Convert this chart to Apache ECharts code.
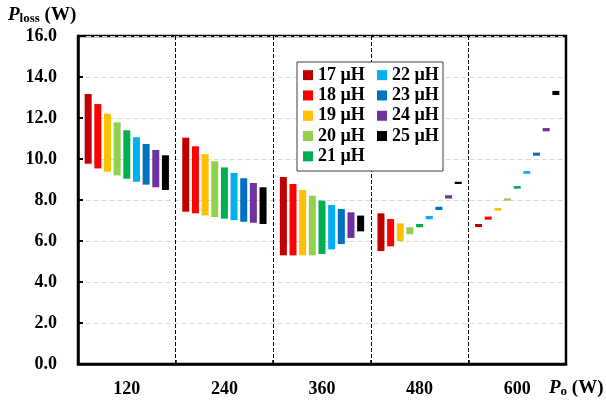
<!DOCTYPE html>
<html>
<head>
<meta charset="utf-8">
<script src="https://cdn.jsdelivr.net/npm/echarts@6/dist/echarts.min.js"></script>
<style>
  html,body{margin:0;padding:0;background:#fff;}
  #main{width:606px;height:403px;}
</style>
</head>
<body>
<div id="main"></div>
<script>
// output power levels (W)
var powers = ['120', '240', '360', '480', '600'];
// inductance values (uH)
var inductances = ['17', '18', '19', '20', '21', '22', '23', '24', '25'];
var colors = ['#C00000', '#FF0000', '#FFC000', '#92D050', '#00B050', '#00B0F0', '#0070C0', '#7030A0', '#000000'];

// upper end of the loss range, one row per inductance, one column per power
var lossTop = [
    [13.17, 11.04, 9.12, 7.35, 6.83],
    [12.68, 10.62, 8.78, 7.07, 7.19],
    [12.21, 10.24, 8.49, 6.86, 7.61],
    [11.79, 9.89, 8.21, 6.67, 8.08],
    [11.40, 9.59, 7.97, 6.83, 8.68],
    [11.06, 9.32, 7.76, 7.22, 9.41],
    [10.73, 9.06, 7.56, 7.67, 10.31],
    [10.44, 8.83, 7.40, 8.23, 11.51],
    [10.18, 8.62, 7.24, 8.89, 13.32]
];
// lower end of the loss range
var lossBottom = [
    [9.77, 7.43, 5.30, 5.51, 6.68],
    [9.54, 7.35, 5.30, 5.74, 7.04],
    [9.38, 7.25, 5.30, 6.00, 7.48],
    [9.20, 7.17, 5.30, 6.33, 7.97],
    [9.04, 7.09, 5.37, 6.67, 8.55],
    [8.89, 7.02, 5.59, 7.06, 9.28],
    [8.75, 6.94, 5.85, 7.51, 10.16],
    [8.62, 6.89, 6.15, 8.07, 11.35],
    [8.49, 6.83, 6.47, 8.78, 13.12]
];

var serif = '"Liberation Serif", "Times New Roman", serif';

var series = [];
var legendNames = [];
for (var i = 0; i < inductances.length; i++) {
    var name = inductances[i] + ' \u00b5H';
    legendNames.push(name);
    // invisible base so the coloured part floats
    series.push({
        type: 'bar',
        name: 'base' + i,
        stack: 'L' + i,
        silent: true,
        barWidth: 7,
        barGap: '38%',
        itemStyle: { color: 'transparent' },
        data: lossBottom[i]
    });
    series.push({
        type: 'bar',
        name: name,
        stack: 'L' + i,
        barWidth: 7,
        barGap: '38%',
        itemStyle: { color: colors[i] },
        data: lossTop[i].map(function (v, j) { return +(v - lossBottom[i][j]).toFixed(2); })
    });
}

var chart = echarts.init(document.getElementById('main'));
var option = {
    animation: false,
    backgroundColor: '#fff',
    grid: {
        left: 78, right: 40, top: 36, bottom: 39,
        show: true, borderColor: '#000', borderWidth: 2.5
    },
    legend: {
        data: legendNames,
        orient: 'vertical',
        left: 303, top: 66,
        height: 101,
        padding: 0,
        itemGap: 2,
        itemWidth: 10, itemHeight: 10,
        icon: 'rect',
        z: 5,
        textStyle: {
            fontFamily: serif, fontWeight: 'bold', fontSize: 18, color: '#000',
            width: 57, lineHeight: 18.3, padding: [0, 0, 0, 0]
        }
    },
    xAxis: {
        type: 'category',
        data: powers,
        axisLine: { lineStyle: { color: '#000', width: 2.5 } },
        axisTick: { show: true, inside: true, length: 4, lineStyle: { color: '#000', width: 1.5 } },
        axisLabel: { fontFamily: serif, fontWeight: 'bold', fontSize: 18, color: '#000', margin: 16 },
        splitLine: { show: true, lineStyle: { color: '#000', type: [4, 2], width: 1 } }
    },
    yAxis: {
        type: 'value',
        min: 0, max: 16, interval: 2,
        axisLine: { show: true, lineStyle: { color: '#000', width: 2.5 } },
        axisTick: { show: true, inside: true, length: 5, lineStyle: { color: '#000', width: 2 } },
        axisLabel: {
            fontFamily: serif, fontWeight: 'bold', fontSize: 18, color: '#000', margin: 21,
            formatter: function (v) { return v.toFixed(1); }
        },
        splitLine: { show: true, lineStyle: { color: '#d9d9d9', type: [5, 3], width: 1 } }
    },
    graphic: [
        {
            type: 'rect', z: 3,
            shape: { x: 297, y: 62, width: 146, height: 109 },
            style: { fill: '#fff', stroke: '#404040', lineWidth: 1 }
        },
        {
            type: 'text', left: 8, top: 6, z: 5,
            style: {
                text: '{p|P}{s|loss}{w| (W)}',
                rich: {
                    p: { fontFamily: serif, fontWeight: 'bold', fontStyle: 'italic', fontSize: 19, fill: '#000', verticalAlign: 'bottom' },
                    s: { fontFamily: serif, fontWeight: 'bold', fontSize: 13, fill: '#000', verticalAlign: 'bottom' },
                    w: { fontFamily: serif, fontWeight: 'bold', fontSize: 19, fill: '#000', verticalAlign: 'bottom' }
                }
            }
        },
        {
            type: 'text', left: 549, top: 379, z: 5,
            style: {
                text: '{p|P}{s|o}{w| (W)}',
                rich: {
                    p: { fontFamily: serif, fontWeight: 'bold', fontStyle: 'italic', fontSize: 19, fill: '#000', verticalAlign: 'bottom' },
                    s: { fontFamily: serif, fontWeight: 'bold', fontSize: 13, fill: '#000', verticalAlign: 'bottom' },
                    w: { fontFamily: serif, fontWeight: 'bold', fontSize: 19, fill: '#000', verticalAlign: 'bottom' }
                }
            }
        }
    ],
    series: series
};
chart.setOption(option);
</script>
</body>
</html>
